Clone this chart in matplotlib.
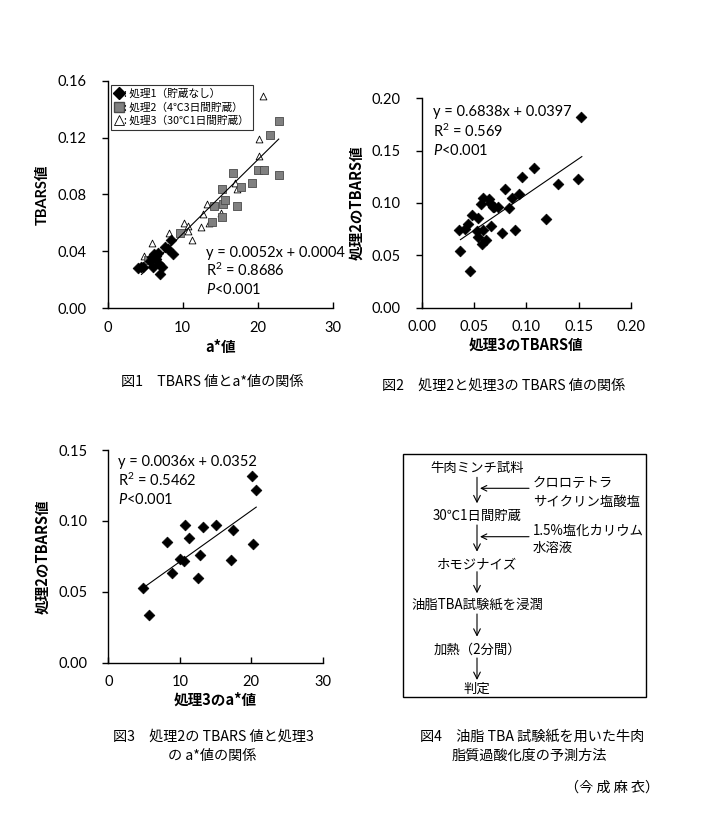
import matplotlib
matplotlib.use("Agg")
import matplotlib.pyplot as plt
import numpy as np
from matplotlib.lines import Line2D
from matplotlib.patches import Rectangle

plt.rcParams['font.family'] = ['Lato', 'Noto Sans CJK JP', 'DejaVu Sans']
plt.rcParams['mathtext.fontset'] = 'custom'
plt.rcParams['mathtext.rm'] = 'Lato'
plt.rcParams['mathtext.it'] = 'Lato:italic'
plt.rcParams['mathtext.bf'] = 'Lato:bold'

JP = ['Noto Sans CJK JP', 'DejaVu Sans']
LJ = ['Lato', 'Noto Sans CJK JP', 'DejaVu Sans']

# ---------------- data ----------------
# Fig1: a* value vs TBARS for three treatments
t1_x = [4.0, 4.4, 4.7, 5.6, 5.9, 6.0, 6.2, 6.4, 6.5, 6.7, 7.0, 7.3, 7.6, 8.1, 8.5, 8.7, 6.8]
t1_y = [0.028, 0.029, 0.029, 0.033, 0.036, 0.029, 0.038, 0.037, 0.035, 0.039, 0.024, 0.029, 0.043, 0.042, 0.048, 0.038, 0.031]
t2_x = [5.4, 9.7, 13.9, 15.2, 14.2, 15.4, 15.7, 17.2, 15.2, 16.7, 17.8, 19.3, 20.1, 20.8, 22.8, 21.7, 22.8]
t2_y = [0.034, 0.053, 0.061, 0.064, 0.072, 0.073, 0.076, 0.072, 0.084, 0.095, 0.085, 0.088, 0.097, 0.097, 0.094, 0.122, 0.132]
t3_x = [4.8, 5.9, 8.2, 10.2, 10.7, 10.7, 11.2, 12.4, 12.7, 13.5, 13.3, 15.1, 17.0, 17.3, 20.2, 20.2, 20.7]
t3_y = [0.037, 0.046, 0.053, 0.060, 0.058, 0.054, 0.048, 0.057, 0.066, 0.060, 0.073, 0.067, 0.088, 0.084, 0.107, 0.119, 0.149]
fit1 = (0.0052, 0.0004, 4.5, 22.8)

# Fig2: treatment3 TBARS vs treatment2 TBARS
f2_x = [0.152, 0.149, 0.130, 0.119, 0.107, 0.096, 0.093, 0.086, 0.080, 0.083, 0.089, 0.077,
        0.073, 0.069, 0.059, 0.064, 0.057, 0.065, 0.068, 0.054, 0.048, 0.044, 0.041, 0.036,
        0.066, 0.059, 0.053, 0.054, 0.061, 0.058, 0.037, 0.046]
f2_y = [0.182, 0.123, 0.118, 0.085, 0.133, 0.125, 0.109, 0.105, 0.113, 0.095, 0.074, 0.071,
        0.096, 0.096, 0.105, 0.104, 0.099, 0.100, 0.096, 0.086, 0.089, 0.080, 0.075, 0.074,
        0.078, 0.074, 0.073, 0.068, 0.065, 0.061, 0.054, 0.035]
fit2 = (0.6838, 0.0397, 0.037, 0.153)

# Fig3: treatment3 a* vs treatment2 TBARS
f3_x = [4.9, 5.7, 8.2, 8.9, 10.1, 10.6, 10.7, 11.3, 12.6, 12.8, 13.3, 15.1, 17.1, 17.4, 20.1, 20.2, 20.7]
f3_y = [0.0527, 0.0334, 0.085, 0.0635, 0.0729, 0.0719, 0.097, 0.0877, 0.060, 0.0757, 0.0954, 0.097,
        0.0724, 0.0933, 0.132, 0.0837, 0.122]
fit3 = (0.0036, 0.0352, 4.9, 20.7)

W, H = 705, 818
fig = plt.figure(figsize=(W / 100, H / 100), dpi=100)


def add_ax(l, t, r, b):
    return fig.add_axes([l / W, 1 - b / H, (r - l) / W, (b - t) / H])


def style(ax):
    for s in ['top', 'right']:
        ax.spines[s].set_visible(False)
    for s in ['left', 'bottom']:
        ax.spines[s].set_linewidth(1.0)
        ax.spines[s].set_color('black')
    ax.tick_params(axis='x', direction='in', length=4, width=1, pad=9, labelsize=10.5)
    ax.tick_params(axis='y', direction='out', length=4, width=1, pad=11, labelsize=10.5)


def fitline(ax, fit):
    a, b, x0, x1 = fit
    xs = np.array([x0, x1])
    ax.plot(xs, a * xs + b, color='black', lw=0.8, zorder=3)


# ---------- Fig 1 ----------
ax1 = add_ax(107.7, 80.7, 332.7, 308.3)
style(ax1)
ax1.set_xlim(0, 30)
ax1.set_ylim(0, 0.16)
ax1.set_xticks([0, 10, 20, 30])
ax1.set_yticks([0, 0.04, 0.08, 0.12, 0.16])
ax1.set_yticklabels(['0.00', '0.04', '0.08', '0.12', '0.16'])
ax1.scatter(t3_x, t3_y, marker='^', s=24, facecolor='white', edgecolor='black', linewidth=0.6, zorder=2)
ax1.scatter(t2_x, t2_y, marker='s', s=30, facecolor='#808080', edgecolor='#4a4a4a', linewidth=0.6, zorder=2)
ax1.scatter(t1_x, t1_y, marker='D', s=30, facecolor='black', edgecolor='black', linewidth=0.5, zorder=4)
fitline(ax1, fit1)
ax1.set_xlabel('a*値', fontsize=10.5, fontweight='bold', family=JP, labelpad=3)
ax1.set_ylabel('TBARS値', fontsize=10.5, fontweight='bold', family=LJ, labelpad=6)
handles = [
    Line2D([], [], marker='D', ls='none', ms=6.5, mfc='black', mec='black'),
    Line2D([], [], marker='s', ls='none', ms=6.5, mfc='#808080', mec='#4a4a4a'),
    Line2D([], [], marker='^', ls='none', ms=7, mfc='white', mec='black', mew=0.6),
]
labels = [': 処理1（貯蔵なし）', ': 処理2（4℃3日間貯蔵）', ': 処理3（30℃1日間貯蔵）']
leg = ax1.legend(handles, labels, loc='upper left', bbox_to_anchor=(0.0, 0.995), frameon=True, fancybox=False,
                 edgecolor='black', prop={'family': JP, 'size': 7.7}, handlelength=0.8, handletextpad=0.1,
                 borderpad=0.35, labelspacing=0.28, borderaxespad=0.3)
leg.get_frame().set_linewidth(0.8)
ax1.text(13.07, 0.0391, 'y = 0.0052x + 0.0004', fontsize=10.5, va='center')
ax1.text(13.07, 0.0264, 'R$\\mathregular{^2}$ = 0.8686', fontsize=10.5, va='center')
ax1.text(13.07, 0.0134, '$\\mathit{P}$<0.001', fontsize=10.5, va='center')

# ---------- Fig 2 ----------
ax2 = add_ax(421.7, 98.3, 631, 307.7)
style(ax2)
ax2.set_xlim(0, 0.2)
ax2.set_ylim(0, 0.2)
ax2.set_xticks([0, 0.05, 0.10, 0.15, 0.20])
ax2.set_xticklabels(['0.00', '0.05', '0.10', '0.15', '0.20'])
ax2.set_yticks([0, 0.05, 0.10, 0.15, 0.20])
ax2.set_yticklabels(['0.00', '0.05', '0.10', '0.15', '0.20'])
ax2.scatter(f2_x, f2_y, marker='D', s=30, facecolor='black', edgecolor='black', linewidth=0.5, zorder=4)
fitline(ax2, fit2)
ax2.set_xlabel('処理3のTBARS値', fontsize=10.5, fontweight='bold', family=JP, labelpad=2)
ax2.set_ylabel('処理2のTBARS値', fontsize=10.5, fontweight='bold', family=JP, labelpad=5)
ax2.text(0.011, 0.1865, 'y = 0.6838x + 0.0397', fontsize=10.5, va='center')
ax2.text(0.011, 0.168, 'R$\\mathregular{^2}$ = 0.569', fontsize=10.5, va='center')
ax2.text(0.011, 0.1497, '$\\mathit{P}$<0.001', fontsize=10.5, va='center')

# ---------- Fig 3 ----------
ax3 = add_ax(108.3, 450, 322.7, 662.7)
style(ax3)
ax3.set_xlim(0, 30)
ax3.set_ylim(0, 0.15)
ax3.set_xticks([0, 10, 20, 30])
ax3.set_yticks([0, 0.05, 0.10, 0.15])
ax3.set_yticklabels(['0.00', '0.05', '0.10', '0.15'])
ax3.scatter(f3_x, f3_y, marker='D', s=30, facecolor='black', edgecolor='black', linewidth=0.5, zorder=4)
fitline(ax3, fit3)
ax3.set_xlabel('処理3のa*値', fontsize=10.5, fontweight='bold', family=JP, labelpad=2)
ax3.set_ylabel('処理2のTBARS値', fontsize=10.5, fontweight='bold', family=JP, labelpad=6)
ax3.text(1.4, 0.1415, 'y = 0.0036x + 0.0352', fontsize=10.5, va='center')
ax3.text(1.4, 0.1283, 'R$\\mathregular{^2}$ = 0.5462', fontsize=10.5, va='center')
ax3.text(1.4, 0.1150, '$\\mathit{P}$<0.001', fontsize=10.5, va='center')

# ---------- overlay (captions + flowchart) ----------
ov = fig.add_axes([0, 0, 1, 1], zorder=-1)
ov.set_xlim(0, W)
ov.set_ylim(H, 0)
ov.axis('off')

cap = dict(family=JP, fontsize=10.2, va='center', ha='left')
ov.text(121, 382, '図1　TBARS 値とa*値の関係', **cap)
ov.text(382, 386, '図2　処理2と処理3の TBARS 値の関係', **cap)
ov.text(113, 737, '図3　処理2の TBARS 値と処理3', **cap)
ov.text(168, 756, 'の a*値の関係', **cap)
ov.text(420, 737, '図4　油脂 TBA 試験紙を用いた牛肉', **cap)
ov.text(452, 756, '脂質過酸化度の予測方法', **cap)
ov.text(565, 788, '（今 成 麻 衣）', **cap)

ov.add_patch(Rectangle((402.7, 454), 646 - 402.7, 697.3 - 454, fill=False, edgecolor='black', lw=1.0))
fc = dict(family=JP, fontsize=9.6, va='center')
cx = 477
steps = [('牛肉ミンチ試料', 468.3), ('30℃1日間貯蔵', 516), ('ホモジナイズ', 564),
         ('油脂TBA試験紙を浸潤', 605), ('加熱（2分間）', 650), ('判定', 688.3)]
for s, y in steps:
    ov.text(cx, y, s, ha='center', **fc)
arrows = [(477.3, 503.3), (525, 551.7), (571.7, 593.3), (614, 636.7), (658, 680)]
for y0, y1 in arrows:
    ov.annotate('', xy=(cx, y1), xytext=(cx, y0),
                arrowprops=dict(arrowstyle='->', lw=0.8, color='black', mutation_scale=12, shrinkA=0, shrinkB=0))
for y in [488.3, 536.7]:
    ov.annotate('', xy=(480, y), xytext=(529, y),
                arrowprops=dict(arrowstyle='->', lw=0.8, color='black', mutation_scale=10, shrinkA=0, shrinkB=0))
ov.text(533, 483.3, 'クロロテトラ', ha='left', **fc)
ov.text(533, 501.7, 'サイクリン塩酸塩', ha='left', **fc)
ov.text(533, 530.7, '1.5%塩化カリウム', ha='left', **fc)
ov.text(533, 548.3, '水溶液', ha='left', **fc)

fig.savefig('out.png', dpi=100)
